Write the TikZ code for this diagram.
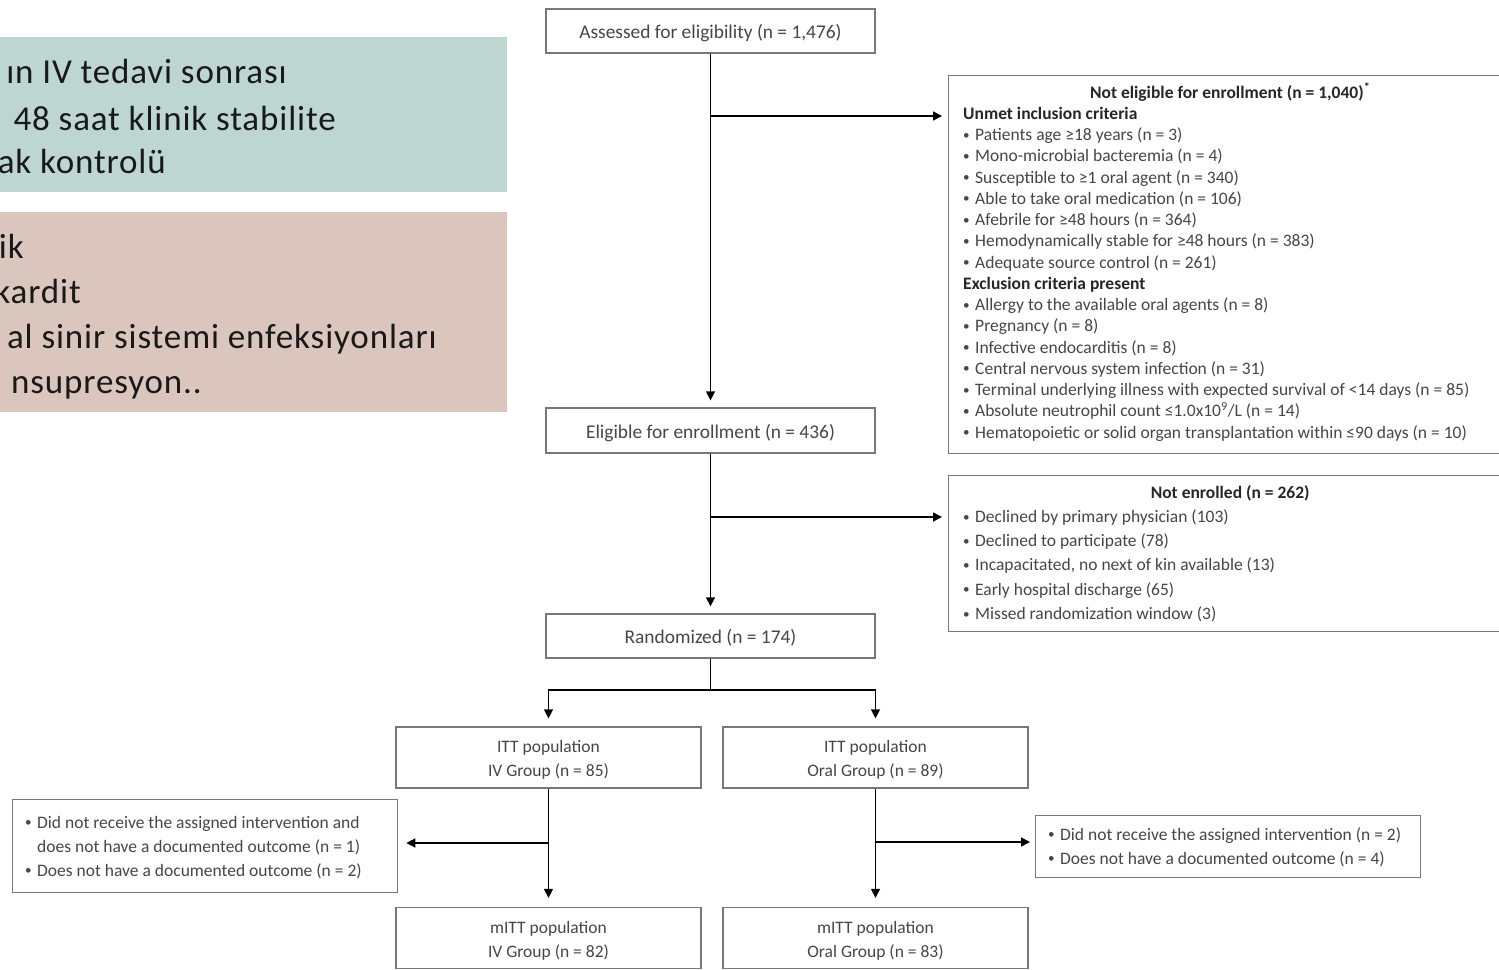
\documentclass[tikz,border=0pt]{standalone}
\usepackage{fontspec}
\setmainfont{Carlito}
\newfontfamily\panelfont[LetterSpace=2.5]{Carlito}
\usetikzlibrary{arrows.meta}
\definecolor{panelteal}{RGB}{189,214,210}
\definecolor{panelrose}{RGB}{219,198,190}
\definecolor{boxline}{RGB}{120,120,120}
\definecolor{ink}{RGB}{70,70,70}
\definecolor{panelink}{RGB}{25,25,25}
\newcommand{\bul}{\makebox[12pt][l]{\raisebox{0.15ex}{\scalebox{0.75}{\textbullet}}}}
\begin{document}
\begin{tikzpicture}[x=1pt,y=-1pt,
  flowbox/.style={draw=boxline, line width=1.3pt, fill=white, text=ink, inner sep=0pt, align=center},
  bigflow/.style={flowbox, minimum width=329pt, minimum height=44pt, text height=19pt, text depth=4pt, font=\fontsize{19.4}{23}\selectfont},
  popbox/.style={flowbox, minimum width=305pt, minimum height=61pt, font=\fontsize{17.5}{24}\selectfont},
  listbox/.style={draw=boxline, line width=1.3pt, anchor=north west, inner sep=0pt},
  listtext/.style={text=ink, anchor=base west, inner sep=0pt, font=\fontsize{17.5}{21.1}\selectfont},
  panel/.style={anchor=north west, inner sep=0pt, minimum width=520pt},
  paneltext/.style={text=panelink, anchor=base east, inner sep=0pt, font=\panelfont\fontsize{35}{40}\selectfont},
  arr/.style={line width=1.4pt, -{Triangle[width=9pt,length=9pt]}},
  link/.style={line width=1.4pt}
]
\useasboundingbox (0,0) rectangle (1499,969);
\fill[white] (0,0) rectangle (1499,969);
\clip (0,0) rectangle (1499,969);

% coloured panels on the left
\node[panel, fill=panelteal, minimum height=155pt] (stable) at (-13,37) {};
\node[panel, fill=panelrose, minimum height=200pt] (exclude) at (-13,212) {};
\node[paneltext] (s1) at (287,83) {ın IV tedavi sonrası};
\node[paneltext] (s2) at (336,130) {48 saat klinik stabilite};
\node[paneltext] (s3) at (166,173) {ak kontrolü};
\node[paneltext] (e1) at (24,258) {ik};
\node[paneltext] (e2) at (81,303) {kardit};
\node[paneltext] (e3) at (437,348) {al sinir sistemi enfeksiyonları};
\node[paneltext] (e4) at (202,393) {nsupresyon..};

% main flow
\node[bigflow] (assessed) at (710.5,31) {Assessed for eligibility (n = 1,476)};
\node[bigflow, minimum height=45pt] (eligible) at (710.5,430.5) {Eligible for enrollment (n = 436)};
\node[bigflow] (rand) at (710.5,636) {Randomized (n = 174)};
\node[popbox] (ittiv) at (548.5,757.5) {\rule{0pt}{17pt}ITT population\\IV Group (n = 85)};
\node[popbox] (ittoral) at (875.5,757.5) {\rule{0pt}{17pt}ITT population\\Oral Group (n = 89)};
\node[popbox] (mittiv) at (548.5,938) {\rule{0pt}{18pt}mITT population\\IV Group (n = 82)};
\node[popbox] (mittoral) at (875.5,938) {\rule{0pt}{18pt}mITT population\\Oral Group (n = 83)};

% side boxes
\node[listbox, minimum width=565pt, minimum height=378pt] (ne) at (948,75) {};
\node[listtext] (netext) at (963,98) {\parbox[t]{534pt}{\setlength{\baselineskip}{21.25pt}%
\makebox[534pt]{\bfseries\color{black!85}Not eligible for enrollment (n = 1,040)\textsuperscript{*}}\\
{\bfseries\color{black!85}Unmet inclusion criteria}\\
\bul Patients age ≥18 years (n = 3)\\
\bul Mono-microbial bacteremia (n = 4)\\
\bul Susceptible to ≥1 oral agent (n = 340)\\
\bul Able to take oral medication (n = 106)\\
\bul Afebrile for ≥48 hours (n = 364)\\
\bul Hemodynamically stable for ≥48 hours (n = 383)\\
\bul Adequate source control (n = 261)\\
{\bfseries\color{black!85}Exclusion criteria present}\\
\bul Allergy to the available oral agents (n = 8)\\
\bul Pregnancy (n = 8)\\
\bul Infective endocarditis (n = 8)\\
\bul Central nervous system infection (n = 31)\\
\bul Terminal underlying illness with expected survival of <14 days (n = 85)\\
\bul Absolute neutrophil count ≤1.0x10\textsuperscript{9}/L (n = 14)\\
\bul Hematopoietic or solid organ transplantation within ≤90 days (n = 10)}};

\node[listbox, minimum width=565pt, minimum height=156pt] (nenr) at (948,475) {};
\node[listtext] (nenrtext) at (963,498) {\parbox[t]{534pt}{\setlength{\baselineskip}{24.3pt}%
\makebox[534pt]{\bfseries\color{black!85}Not enrolled (n = 262)}\\
\bul Declined by primary physician (103)\\
\bul Declined to participate (78)\\
\bul Incapacitated, no next of kin available (13)\\
\bul Early hospital discharge (65)\\
\bul Missed randomization window (3)}};

\node[listbox, minimum width=385pt, minimum height=93pt] (lostiv) at (12,799) {};
\node[listtext] (lostivtext) at (25,828) {\parbox[t]{360pt}{\setlength{\baselineskip}{24pt}%
\bul Did not receive the assigned intervention and\\
\hspace*{12pt}does not have a documented outcome (n = 1)\\
\bul Does not have a documented outcome (n = 2)}};

\node[listbox, minimum width=385pt, minimum height=62pt] (lostoral) at (1035,815) {};
\node[listtext] (lostoraltext) at (1048,840) {\parbox[t]{360pt}{\setlength{\baselineskip}{24pt}%
\bul Did not receive the assigned intervention (n = 2)\\
\bul Does not have a documented outcome (n = 4)}};

% connectors
\draw[arr, shorten >=7pt] (assessed.south) -- (eligible.north);
\draw[arr, shorten >=6pt] (assessed.south |- 0,116) -- (ne.west |- 0,116);
\draw[arr, shorten >=7pt] (eligible.south) -- (rand.north);
\draw[arr, shorten >=6pt] (eligible.south |- 0,517) -- (nenr.west |- 0,517);
\draw[link] (rand.south) -- (rand.south |- 0,690);
\draw[arr, shorten >=8pt] (rand.south |- 0,690) -| (ittiv.north);
\draw[arr, shorten >=8pt] (rand.south |- 0,690) -| (ittoral.north);
\draw[arr, shorten >=9pt] (ittiv.south) -- (mittiv.north);
\draw[arr, shorten >=8pt] (ittiv.south |- 0,843) -- (lostiv.east |- 0,843);
\draw[arr, shorten >=9pt] (ittoral.south) -- (mittoral.north);
\draw[arr, shorten >=5pt] (ittoral.south |- 0,842) -- (lostoral.west |- 0,842);
\end{tikzpicture}
\end{document}
